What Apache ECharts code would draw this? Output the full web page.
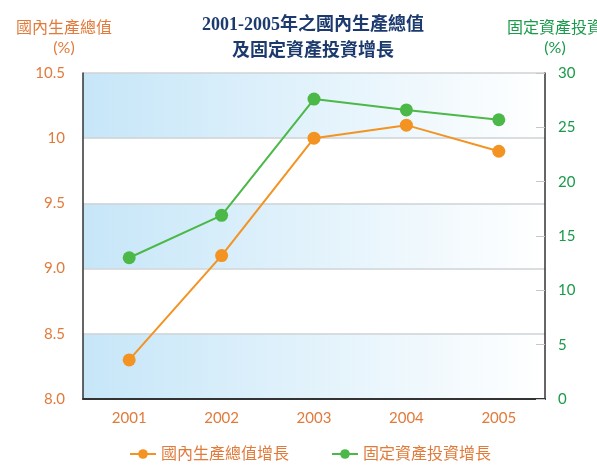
<!DOCTYPE html>
<html>
<head>
<meta charset="utf-8">
<script src="https://cdn.jsdelivr.net/npm/echarts@6/dist/echarts.min.js"></script>
<style>
  html, body { margin: 0; padding: 0; background: #fff; }
  #chart { width: 597px; height: 466px; }
</style>
</head>
<body>
<div id="chart"></div>
<script>
// data
const years = ['2001', '2002', '2003', '2004', '2005'];
const gdpGrowth = [8.3, 9.1, 10.0, 10.1, 9.9];
const investGrowth = [13.0, 16.9, 27.6, 26.6, 25.7];
const gdpTicks = ['8.0', '8.5', '9.0', '9.5', '10', '10.5'];

const orange = '#f39322';
const green = '#4cb848';
const labelOrange = '#e07b3c';
const labelGreen = '#1a9a4a';
const font = "'Lato', 'Noto Sans CJK TC', sans-serif";

const band = new echarts.graphic.LinearGradient(0, 0, 1, 0, [
  { offset: 0, color: '#c6e6f8' },
  { offset: 1, color: '#ffffff' },
]);

const chart = echarts.init(document.getElementById('chart'));
chart.setOption({
  animation: false,
  title: [
    {
      text: '2001-2005年之國內生產總值\n及固定資產投資增長',
      left: 308,
      top: 7,
      textAlign: 'center',
      textStyle: {
        fontFamily: "'Liberation Serif', 'Noto Sans CJK TC', serif",
        fontWeight: 'bold',
        fontSize: 18,
        lineHeight: 26,
        color: '#1c3a6e',
      },
    },
    {
      text: '國內生產總值\n(%)',
      left: 59,
      top: 13,
      textAlign: 'center',
      textStyle: { fontFamily: font, fontWeight: 'normal', fontSize: 16, lineHeight: 20, color: labelOrange },
    },
    {
      text: '固定資產投資\n(%)',
      left: 550,
      top: 13,
      textAlign: 'center',
      textStyle: { fontFamily: font, fontWeight: 'normal', fontSize: 16, lineHeight: 20, color: labelGreen },
    },
  ],
  grid: { left: 83, right: 52, top: 73, bottom: 67 },
  legend: {
    bottom: -1,
    left: 124,
    itemGap: 42,
    itemWidth: 26,
    itemHeight: 12,
    textStyle: { fontFamily: font, fontSize: 16, color: labelOrange },
    data: ['國內生產總值增長', '固定資產投資增長'],
  },
  xAxis: {
    type: 'category',
    data: years,
    boundaryGap: true,
    axisLine: { lineStyle: { color: '#333', width: 2 } },
    axisTick: { inside: true, length: 6, lineStyle: { color: '#333' } },
    axisLabel: { margin: 12, fontFamily: font, fontSize: 15, color: labelOrange },
  },
  yAxis: [
    {
      type: 'value',
      min: 8,
      max: 10.5,
      interval: 0.5,
      axisLine: { show: true, lineStyle: { color: '#333', width: 1.5 } },
      axisTick: { show: false },
      axisLabel: {
        margin: 18,
        fontFamily: font,
        fontSize: 15,
        color: labelOrange,
        formatter: (v, i) => gdpTicks[i],
      },
      splitLine: { lineStyle: { color: '#cfd3d6', width: 1.5 } },
      splitArea: { show: true, areaStyle: { color: [band, 'rgba(255,255,255,0)'] } },
    },
    {
      type: 'value',
      min: 0,
      max: 30,
      interval: 5,
      position: 'right',
      axisLine: { show: true, lineStyle: { color: '#333', width: 1.5 } },
      axisTick: { show: true, inside: true, length: 9, lineStyle: { color: '#c8c8c8' } },
      axisLabel: { margin: 13, fontFamily: font, fontSize: 15, color: labelGreen },
      splitLine: { show: false },
    },
  ],
  series: [
    {
      name: '國內生產總值增長',
      type: 'line',
      yAxisIndex: 0,
      data: gdpGrowth,
      symbol: 'circle',
      symbolSize: 13,
      itemStyle: { color: orange },
      lineStyle: { color: orange, width: 2 },
    },
    {
      name: '固定資產投資增長',
      type: 'line',
      yAxisIndex: 1,
      data: investGrowth,
      symbol: 'circle',
      symbolSize: 13,
      itemStyle: { color: green },
      lineStyle: { color: green, width: 2 },
    },
  ],
});
</script>
</body>
</html>
